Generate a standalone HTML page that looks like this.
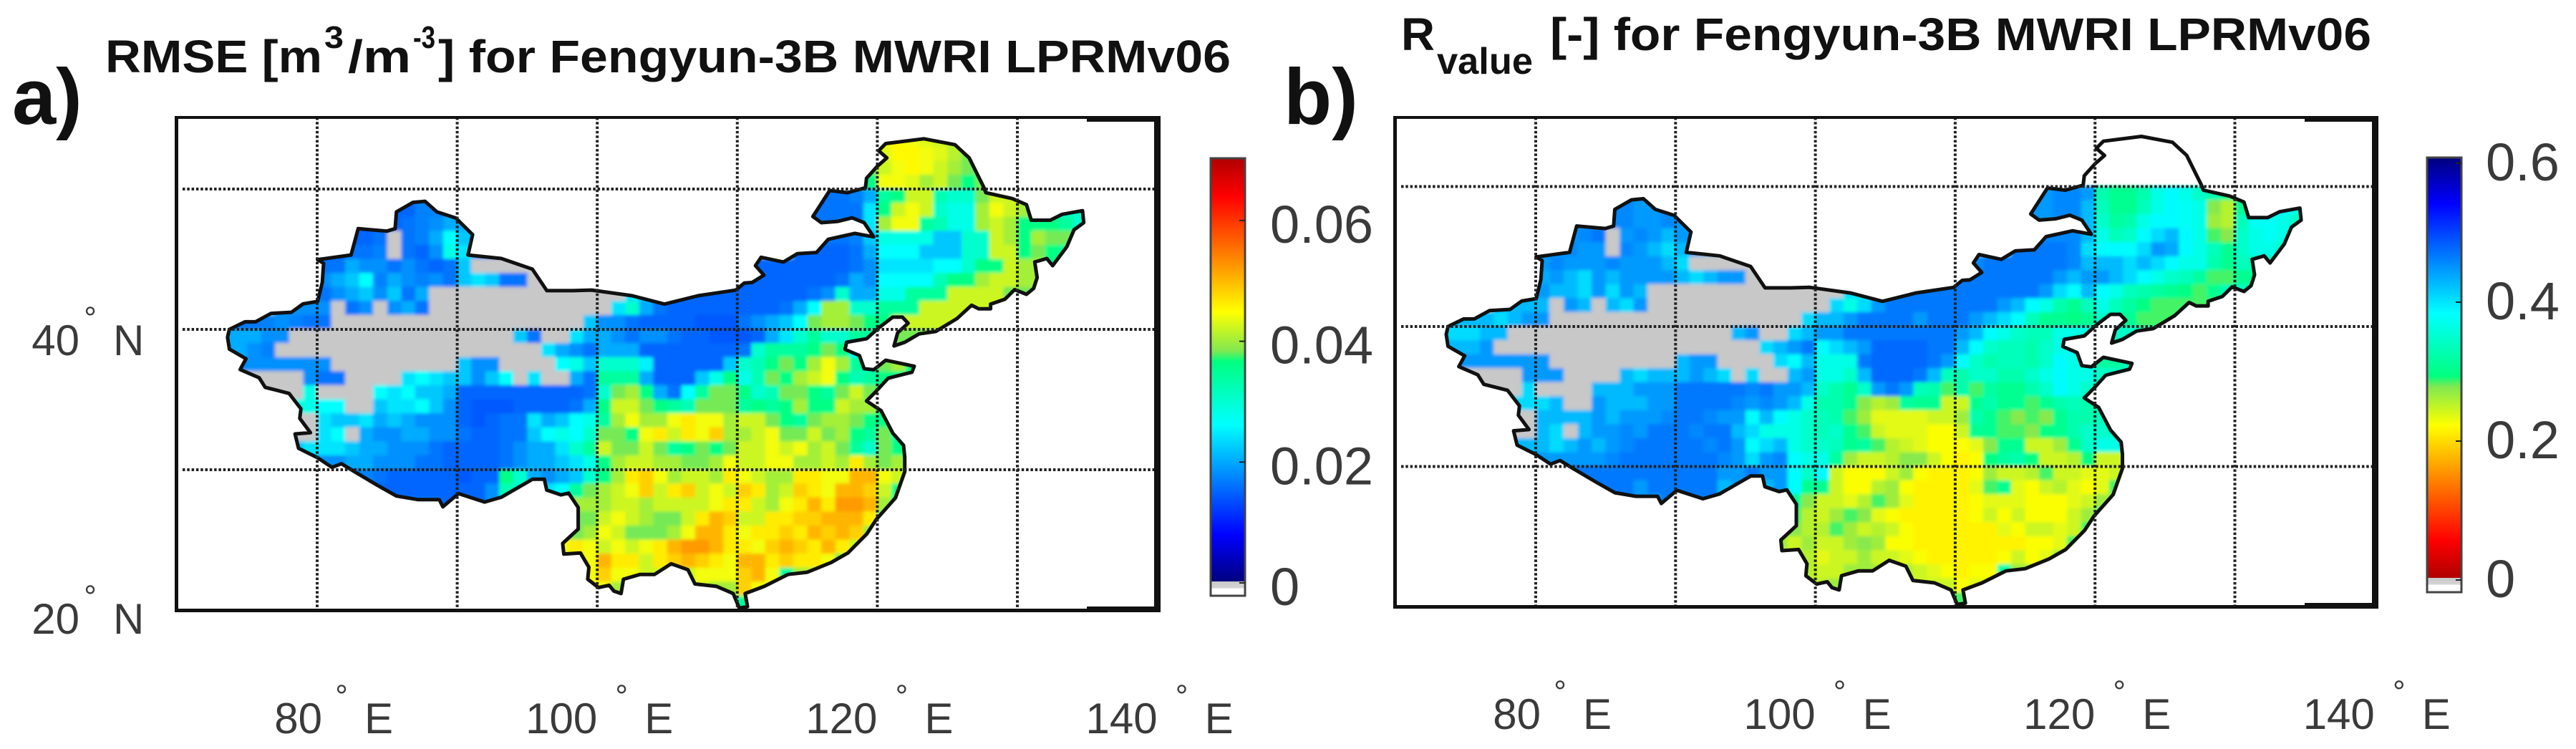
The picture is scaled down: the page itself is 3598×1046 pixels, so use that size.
<!DOCTYPE html>
<html lang="en">
<head>
<meta charset="utf-8">
<title>RMSE and R value maps for Fengyun-3B MWRI LPRMv06</title>
<style>
html,body{margin:0;padding:0;background:#fff;width:3598px;height:1046px;overflow:hidden}
svg{display:block}
text{font-family:"Liberation Sans",sans-serif}
.ttl{font-weight:700;font-size:64px;fill:#111}
.pl{font-weight:700;font-size:110px;fill:#111}
.tk{font-size:60px;fill:#3a3a3a}
.cb{font-size:74px;fill:#3a3a3a}
</style>
</head>
<body>
<svg id="fig" xmlns="http://www.w3.org/2000/svg" width="3598" height="1046" viewBox="0 0 3598 1046">
<defs>
<filter id="soft" x="-5%" y="-5%" width="110%" height="110%"><feGaussianBlur stdDeviation="2.5"/></filter>
<clipPath id="clip-a"><path id="clip-a-path"/></clipPath>
<clipPath id="clip-b"><path id="clip-b-path"/></clipPath>
<linearGradient id="grad-a" x1="0" y1="1" x2="0" y2="0"></linearGradient>
<linearGradient id="grad-b" x1="0" y1="0" x2="0" y2="1"></linearGradient>
<linearGradient id="nodata-grad" x1="0" y1="0" x2="0" y2="1"><stop offset="0" stop-color="#c8c8c8"/><stop offset="0.45" stop-color="#d4d4d4"/><stop offset="0.5" stop-color="#fff"/><stop offset="1" stop-color="#fff"/></linearGradient>
</defs>
<text class="pl" x="17" y="173">a)</text>
<text class="pl" x="1793" y="173">b)</text>
<g>
<text class="ttl" x="147" y="101" textLength="303" lengthAdjust="spacingAndGlyphs">RMSE [m</text>
<text class="ttl" x="453" y="67" style="font-size:44px" textLength="27" lengthAdjust="spacingAndGlyphs">3</text>
<text class="ttl" x="486" y="101" textLength="88" lengthAdjust="spacingAndGlyphs">/m</text>
<text class="ttl" x="577" y="67" style="font-size:44px" textLength="31" lengthAdjust="spacingAndGlyphs">-3</text>
<text class="ttl" x="612" y="101" textLength="1107" lengthAdjust="spacingAndGlyphs">] for Fengyun-3B MWRI LPRMv06</text>
</g>
<g>
<text class="ttl" x="1957" y="70" textLength="47" lengthAdjust="spacingAndGlyphs">R</text>
<text class="ttl" x="2007" y="103" style="font-size:52px" textLength="134" lengthAdjust="spacingAndGlyphs">value</text>
<text class="ttl" x="2165" y="70" textLength="1147" lengthAdjust="spacingAndGlyphs">[-] for Fengyun-3B MWRI LPRMv06</text>
</g>
<g id="layers"></g>
</svg>
<script>
const rowLats = [53,52,51,50,49,48,47,46,45,44,43,42,41,40,39,38,37,36,35,34,33,32,31,30,29,28,27,26,25,24,23,22,21,20];
const lonTicks = [80,100,120,140];
const lonGrid = [80,90,100,110,120,130];
const latGrid = [30,40,50];
const latTicks = [20,40];
const rmseTicks = [0,0.02,0.04,0.06];
const rmseTickLabels = ["0","0.02","0.04","0.06"];
const rvalueTicks = [0,0.2,0.4,0.6];
const rvalueTickLabels = ["0","0.2","0.4","0.6"];
const borderLon = [73.73,74.85,75.6,76.7,78.16,79,80.03,80.37,80.46,80.03,82.42,82.93,84.97,85.57,85.66,86.85,87.7,88.55,89.9,91.1,90.77,93.15,95.37,96.4,98.26,99.6,102.5,104.8,107.2,109.9,110.5,111.06,111.9,111.3,111.7,113.3,114.3,115.66,116.5,118.4,119.74,119.06,118.2,117.2,116,115.4,116.6,117.87,119.15,119.23,120,120.68,120.09,120.6,123.32,125.54,126.56,127.58,127.75,129.63,130.65,130.99,132.35,133.2,134.65,134.74,134.05,133.54,132.52,132.1,131.24,131.41,131.16,130.65,129.8,129.11,128.09,128.09,127.24,126.73,125.7,124.17,122.98,121.96,121.19,121.45,122.2,121.79,121.1,120.09,119.23,117.8,117.7,118.72,119.06,119.74,120.6,122.64,122.47,120.77,119.91,119.23,120.26,121.11,121.87,121.96,121.96,121.3,119.93,119.25,117.9,116.7,115,113.63,111.92,110.56,110.73,110.14,109.71,108.52,106.98,106.64,106.47,105.28,104.09,103.07,101.87,101.7,101.19,100.85,100.09,99.32,99.4,98.8,97.61,97.53,98.64,98.64,97.96,97.41,96.39,96.22,95.37,93.15,91.96,90.09,88.98,88.72,87.19,85.66,84.29,82.59,81.74,81.06,80.03,78.67,78.42,79.52,78.76,78.84,77.99,76.29,75.86,74.5,74.92,73.73,73.6];
const borderLat = [40,40.54,40.54,41.14,41.22,41.82,41.99,43.35,44.71,44.97,45.3,47.18,47,47.18,48.37,49.05,49.13,48.37,47.94,46.75,45.3,45.05,44.29,42.76,42.76,42.8,42.4,41.8,42.4,42.8,43.3,43.34,43.86,44.54,45.14,44.8,45.4,45.48,46.42,46.84,46.59,47.6,47.95,47.7,47.6,48.04,49.9,49.74,50.09,50.77,51.62,52.22,52.73,53.24,53.58,53.16,52.22,50.17,49.74,49.32,48.89,47.78,47.78,48.2,48.46,47.6,47.1,45.9,44.54,45.05,44.8,43.69,42.92,42.5,42.83,42.15,41.8,41.47,41.47,41.72,40.78,39.85,39.68,39.08,38.82,39.76,40.44,40.87,40.87,40.1,39.33,39.08,38.57,38.14,37.2,37.12,37.8,37.37,36.95,36.52,35.58,34.9,34.22,32.6,31.74,30.89,29.86,28,26.46,25.43,24.07,23.39,22.7,22.54,21.69,21.18,20.24,20.15,21.18,21.69,21.86,22.54,22.88,23.3,22.54,22.54,22.2,21.18,21.35,21.77,21.6,22.2,23.05,24.07,23.99,24.75,25.77,27.31,28.33,28.21,28.55,29.32,29.32,28.04,27.7,28.3,27.36,27.87,27.87,28.13,28.9,29.91,30.43,30.17,30.85,31.53,32.55,32.64,33.66,34.34,35.44,35.87,36.55,37.14,37.91,38.59,39.44];
const ramp = [[0,"#00007f"],[0.11,"#0000ff"],[0.37,"#00ffff"],[0.52,"#00ff80"],[0.545,"#80e850"],[0.637,"#ffff00"],[0.77,"#ff8000"],[0.91,"#ff0000"],[1,"#b00000"]];

/* Each grid row follows rowLats; chunks are the 70s,80s,90s,100s,110s,120s,130s degrees E, indexed by lon mod 10. Value 0 = no data. */
/* RMSE in 0.001 m3/m3 */
const rmseGrid = [
[[],[],[],[],[],[44,45,44,43,42,40],[]],
[[],[],[],[],[],[43,45,45,44,43,41,38],[]],
[[],[],[],[],[,,,,,,,,,38],[42,44,45,44,42,40,38,36],[]],
[[],[],[],[],[,,,,,,,,,36],[44,44,43,40,42,38,36,38],[]],
[[],[,,,,,,16,17,17],[],[],[,,,,,16,16,16,17,20],[34,36,42,42,32,30,30,38,42,42],[40]],
[[],[,,,,,15,15,17,17,18],[],[],[,,,,,16,16,16,16,24],[36,42,44,42,30,28,28,40,44,42],[40,36,32,30]],
[[],[,,15,15,15,15,16,17,18,20],[20,18],[],[,,,,,16,16,16,16,24],[40,44,44,34,32,28,28,40,42,40],[36,36,36,34,30]],
[[],[,,15,15,16,0,16,17,20,26],[22,18],[],[,,,,,,16,16,17,22],[28,28,28,28,22,22,30,30,42,40],[36,40,38,38,34]],
[[],[15,15,16,16,17,0,16,15,18,28],[24,18,18],[],[,,,,15,15,15,15,16,20],[26,26,26,22,22,22,30,30,42,42],[36,38,36,34,32]],
[[],[16,16,20,18,18,16,18,16,15,16],[22,0,0,0,0,0],[],[,15,15,15,15,15,15,15,16,18],[24,24,24,24,26,26,30,36,36,42],[40,40,36]],
[[],[18,20,22,26,17,20,18,17,18,16],[22,24,22,16,16,0,0],[],[15,15,15,15,15,15,15,16,20,18],[26,26,26,26,32,36,36,40,42,42],[40,40]],
[[],[16,18,20,22,18,22,16,20,0,0],[0,0,0,0,0,0,0,0,0,0],[0,0,24,20,16,15,15,15,15,15],[15,15,15,15,15,16,18,30,20,20],[28,28,34,34,34,42,42,42,42,38],[38]],
[[,,,,,,,,,18],[18,0,16,18,0,18,20,16,0,0],[0,0,0,0,0,0,0,0,0,0],[0,24,30,20,16,15,15,15,15,15],[15,15,15,16,20,26,40,40,30,30],[34,34,34,42,42,42,42],[]],
[[,,,,16,16,17,18,17,16],[16,0,0,0,0,0,0,0,0,0],[0,0,0,0,0,0,0,0,0,22],[18,18,16,15,15,15,15,14,14,14],[16,18,20,22,26,38,40,40,38,36],[36,42,42,42,42,42],[]],
[[,,,,20,20,18,18,0,0],[0,0,0,0,0,0,0,0,0,0],[0,0,0,0,22,16,0,0,24,20],[20,18,16,18,18,16,15,15,14,14],[14,15,20,24,30,34,30,30,34,34],[38,38,38,38,38],[]],
[[,,,,20,18,17,0,0,0],[0,0,0,0,0,0,0,0,0,0],[0,0,0,0,0,0,24,20,18,16],[20,20,20,15,15,15,15,15,15,15],[16,30,34,34,34,36,38,36,26,30],[38,38,36],[]],
[[,,,,,18,18,18,18,18],[18,0,0,0,0,0,0,0,0,0],[22,18,18,0,0,0,0,26,28,22],[30,30,30,25,15,15,15,15,15,22],[30,32,36,38,36,40,44,40,34,30],[38,40,36],[]],
[[,,,,,,0,0,0,18],[16,16,0,0,0,0,24,26,24,22],[22,18,22,26,0,24,0,0,20,16],[34,34,34,20,15,15,15,22,28,36],[28,32,38,36,40,42,44,36,32,34],[36],[]],
[[,,,,,,,,0,28],[0,0,0,0,26,24,26,22,22,20],[15,15,15,15,15,15,15,15,15,16],[30,38,40,36,20,16,26,34,38,38],[36,30,32,38,38,36,34,38,42,38],[36],[]],
[[,,,,,,,,,28],[26,26,0,0,22,24,24,26,22,18],[15,14,14,14,15,15,15,15,16,20],[36,42,42,38,36,34,32,38,38,38],[34,36,34,36,40,36,36,42,40,40],[34],[]],
[[,,,,,,,,0,0],[24,22,22,24,20,22,20,18,18,18],[15,14,15,16,16,24,20,22,26,28],[34,40,44,40,40,44,46,44,44,40],[42,42,38,36,34,38,40,40,38,36],[36,34],[]],
[[,,,,,,,,,0],[24,26,0,20,18,18,20,20,18,18],[16,15,15,16,16,22,26,28,26,30],[38,38,36,44,46,42,46,44,48,40],[40,42,44,38,38,42,38,40,36,34],[38,34,30],[]],
[[,,,,,,,,22,24],[24,24,22,20,20,18,18,18,16,15],[15,15,15,16,18,20,20,24,30,34],[42,38,38,42,38,34,36,38,36,38],[42,42,44,42,44,40,42,38,34,30],[38,36,30],[]],
[[],[18,18,20,20,18,18,18,16,16,15],[15,15,15,16,18,20,20,22,24,28],[36,40,42,42,40,40,38,38,40,44],[42,42,44,44,40,40,42,40,46,40],[38,40,36],[]],
[[],[,,,17,16,15,15,15,15,15],[14,15,15,36,30,20,18,20,22,30],[36,40,46,48,44,40,42,42,40,46],[44,42,40,40,46,46,44,44,50,50],[44,42,36],[]],
[[],[,,,,,,15,15,15,15],[15,15,18,32,30,24,24,26,34,38],[40,42,44,48,42,46,48,42,44,42],[48,46,40,42,48,46,44,50,50,48],[42,36],[]],
[[],[,,,,,,,,16,15],[15,15,18,,,,,,40,40],[40,42,42,40,42,42,42,42,44,46],[46,42,40,44,46,50,46,52,52,50],[40,36],[]],
[[],[],[,,,,,,,,38,38],[42,44,42,40,38,38,42,46,50,48],[42,42,46,46,48,48,50,50,50,46],[34],[]],
[[],[],[,,,,,,,,38,40],[44,42,38,38,38,40,44,50,50,46],[44,46,46,48,46,50,48,50,48,40],[],[]],
[[],[],[,,,,,,,44,46,44],[42,44,42,44,46,50,52,52,50,46],[46,44,48,50,48,46,50,46,42,34],[],[]],
[[],[],[,,,,,,,,42,44],[50,46,46,42,46,48,50,48,46,44],[50,50,46,48,46,46,44,38],[],[]],
[[],[],[,,,,,,,,,44],[48,44,44,42,42,42,42,44,44,44],[48,50,44,34,40],[],[]],
[[],[],[,,,,,,,,,44],[44,40,,,,,,42,40,40],[48,44],[],[]],
[[],[],[],[],[34],[],[]]
];
/* R value in 0.01 */
const rvalueGrid = [
[[],[],[],[],[],[],[]],
[[],[],[],[],[],[],[]],
[[],[],[],[],[],[],[]],
[[],[],[],[],[],[],[]],
[[],[,,,,,,44,45,44],[],[],[,,,,,44,44,45,45,44],[32,30,30,32,36,38,36,34,32,30],[30]],
[[],[,,,,,45,45,44,44,45],[],[],[,,,,,44,44,45,45,42],[33,30,30,33,36,38,37,36,27,25],[30,36,38,38,36]],
[[],[,,,44,45,45,45,44,44,45],[44,43],[],[,,,,,44,44,45,45,42],[34,31,32,36,38,38,37,36,26,25],[33,37,37,36,34]],
[[],[,,44,45,46,0,44,45,44,42],[44,44],[],[,,,,,,45,45,45,42],[36,33,34,38,40,42,38,36,28,27],[34,36,37,36,35]],
[[],[44,44,45,44,44,0,45,44,42,40],[42,44,42],[],[,,,,46,46,46,46,45,40],[38,38,38,40,44,43,38,36,33,30],[34,36,36,34,32]],
[[],[44,45,44,44,44,45,44,44,44,42],[40,0,0,0,0,0],[],[,45,46,46,46,46,46,46,45,42],[42,42,40,42,40,38,36,36,32,30],[33,33,32]],
[[],[43,44,42,40,44,42,44,44,44,44],[42,40,42,44,44,0,0],[],[46,46,46,46,46,46,46,44,42,44],[44,42,40,38,36,34,33,31,28,28],[30,30]],
[[],[44,42,42,40,44,40,44,42,0,0],[0,0,0,0,0,0,0,0,0,0],[0,0,40,40,46,46,46,46,46,46],[46,46,46,46,46,46,44,40,38,42],[38,36,33,32,31,30,29,28,30,33],[33]],
[[,,,,,,,,,42],[42,0,44,42,0,42,40,44,0,0],[0,0,0,0,0,0,0,0,0,0],[0,40,36,40,44,46,46,46,46,46],[46,46,46,44,42,38,36,32,30,33],[36,33,31,29,28,28,28],[]],
[[,,,,42,42,42,40,42,44],[44,0,0,0,0,0,0,0,0,0],[0,0,0,0,0,0,0,0,0,40],[42,42,44,46,46,46,46,44,46,46],[46,44,42,40,38,33,30,30,29,30],[34,32,30,28,28,28],[]],
[[,,,,40,40,42,42,0,0],[0,0,0,0,0,0,0,0,0,0],[0,0,0,0,42,44,0,0,40,42],[44,44,46,46,46,46,46,46,46,46],[44,42,38,36,34,33,33,36,36,36],[34,34,34,32,32],[]],
[[,,,,42,42,44,0,0,0],[0,0,0,0,0,0,0,0,0,0],[0,0,0,0,0,0,40,42,44,46],[38,40,42,44,47,47,47,47,46,46],[42,38,34,33,33,32,34,36,38,36],[32,30,28],[]],
[[,,,,,44,44,44,44,44],[44,0,0,0,0,0,0,0,0,0],[42,44,44,0,0,0,0,40,38,42],[36,36,36,46,47,47,47,47,46,44],[38,34,32,33,33,32,34,38,36,36],[31,31,33],[]],
[[,,,,,,0,0,0,44],[44,44,0,0,0,0,42,40,42,42],[42,44,42,40,0,40,0,0,42,44],[36,36,34,42,47,47,47,46,42,33],[32,34,34,32,32,34,36,38,36,36],[34],[]],
[[,,,,,,,,0,40],[0,0,0,0,42,42,42,44,44,44],[46,46,46,46,46,45,46,44,44,42],[34,32,30,34,44,46,44,33,32,28],[32,28,31,30,30,32,34,38,36,34],[34],[]],
[[,,,,,,,,,40],[40,42,0,0,44,42,42,42,44,44],[46,46,46,46,45,44,45,44,42,36],[32,32,30,27,25,26,31,30,30,24],[24,30,32,30,30,28,30,32,33,32],[32],[]],
[[,,,,,,,,0,0],[42,42,42,42,44,42,44,44,44,45],[46,46,45,44,44,38,42,38,36,34],[33,32,28,26,23,23,23,23,24,24],[26,32,30,28,27,28,27,30,32,32],[33,33],[]],
[[,,,,,,,,,0],[42,40,0,42,44,44,45,44,46,46],[46,45,46,46,42,40,36,36,36,34],[33,34,30,28,24,23,23,23,22,22],[24,30,30,28,28,27,29,30,32,34],[34,34,34],[]],
[[,,,,,,,,42,42],[42,40,42,44,42,44,45,46,46,46],[46,46,45,46,44,38,40,42,36,34],[34,33,30,31,28,25,24,23,22,22],[22,23,27,30,30,24,24,26,30,34],[36,36,36],[]],
[[],[44,44,44,44,44,45,46,46,46,46],[46,46,46,45,44,40,44,45,38,36],[36,31,26,24,24,25,27,27,24,22],[21,22,29,31,32,29,24,24,25,29],[24,24,28],[]],
[[],[,,,46,46,46,46,46,46,46],[46,46,46,44,44,46,44,44,38,34],[38,24,22,22,22,24,26,22,21,21],[21,22,26,24,24,25,28,24,24,23],[23,24,28],[]],
[[],[,,,,,,46,44,46,46],[46,46,46,42,44,46,42,44,38,30],[30,24,22,22,25,26,22,21,21,21],[21,23,28,30,23,22,24,25,23,22],[23,28],[]],
[[],[,,,,,,,,44,46],[46,46,46,,,,,,30,27],[24,24,23,25,28,26,23,21,21,21],[21,22,23,23,23,22,22,22,23,24],[26],[]],
[[],[],[,,,,,,,,28,25],[24,26,28,27,23,22,21,21,21,21],[21,22,24,22,24,22,22,22,24,26],[31],[]],
[[],[],[,,,,,,,,27,25],[25,28,26,24,25,24,22,21,21,21],[21,21,21,23,22,24,24,23,24,28],[],[]],
[[],[],[,,,,,,,26,24,26],[24,24,26,27,26,22,22,21,21,21],[21,21,21,21,21,22,22,23,28,31],[],[]],
[[],[],[,,,,,,,,24,25],[23,24,24,26,24,24,23,22,21,21],[21,21,21,22,24,22,23,26],[],[]],
[[],[],[,,,,,,,,,25],[24,24,26,26,26,26,25,24,23,22],[21,22,22,32,26],[],[]],
[[],[],[,,,,,,,,,25],[25,26,,,,,,24,24,24],[22,23],[],[]],
[[],[],[],[],[28],[],[]]
];

const NS = "http://www.w3.org/2000/svg";
const layers = document.getElementById("layers");
function make(tag, attrs, parent, txt){
  const el = document.createElementNS(NS, tag);
  for (const k in attrs) el.setAttribute(k, attrs[k]);
  if (txt !== undefined) el.textContent = txt;
  parent.appendChild(el);
  return el;
}
function hexToRgb(h){return [parseInt(h.slice(1,3),16),parseInt(h.slice(3,5),16),parseInt(h.slice(5,7),16)];}
function rampColor(t){
  t = Math.max(0, Math.min(1, t));
  for (let i = 1; i < ramp.length; i++){
    if (t <= ramp[i][0]){
      const a = ramp[i-1], b = ramp[i], f = (t-a[0])/(b[0]-a[0]);
      const ca = hexToRgb(a[1]), cb = hexToRgb(b[1]);
      return "rgb(" + ca.map((v,j)=>Math.round(v+(cb[j]-v)*f)).join(",") + ")";
    }
  }
  return ramp[ramp.length-1][1];
}
ramp.forEach(function(s){
  make("stop",{offset:s[0],"stop-color":s[1]},document.getElementById("grad-a"));
  make("stop",{offset:s[0],"stop-color":s[1]},document.getElementById("grad-b"));
});

function panel(p){
  const x = function(lon){ return p.x80 + (lon-80)*p.kx; };
  const y = function(lat){ return p.y20 - (lat-20)*p.ky; };
  const g = make("g",{},layers);
  
  

  let d = "";
  borderLon.forEach(function(lon,i){ d += (i?"L":"M") + x(lon).toFixed(1) + " " + y(borderLat[i]).toFixed(1); });
  d += "Z";
  document.getElementById("clip-"+p.id+"-path").setAttribute("d", d);

  const clipG = make("g",{"clip-path":"url(#clip-"+p.id+")"},g);
  
  
  const cells = make("g",{filter:"url(#soft)"},clipG);
  const w = p.kx, h = p.ky;
  p.grid.forEach(function(row,ri){
    const lat = rowLats[ri];
    const flat = [];
    row.forEach(function(chunk,ci){
      for (let k = 0; k < chunk.length; k++){
        if (chunk[k] !== undefined) flat.push({lon:70+ci*10+k, v:chunk[k]});
      }
    });
    flat.forEach(function(c,i){
      const pad = (i===0 || i===flat.length-1) ? 2 : 0;
      const cx = (i===0) ? x(c.lon)-w*pad : x(c.lon);
      const cw = w*(1+pad)+1;
      const fill = c.v === 0 ? "#c8c8c8" : rampColor(p.toT(c.v));
      const r = make("rect",{x:cx.toFixed(1),y:(y(lat+1)-0.5).toFixed(1),width:cw.toFixed(1),height:(h+1).toFixed(1),fill:fill},cells);
      
      
    });
  });

  const border = make("path",{d:d,fill:"none",stroke:"#111","stroke-width":5,"stroke-linejoin":"round"},g);
  
  

  lonGrid.forEach(function(lon){
    const l = make("line",{x1:x(lon),x2:x(lon),y1:p.top,y2:p.bottom,stroke:"#222","stroke-width":4,"stroke-dasharray":"3.5 2.8"},g);
    
    
  });
  latGrid.forEach(function(lat){
    const l = make("line",{x1:p.left+8,x2:p.right,y1:y(lat),y2:y(lat),stroke:"#222","stroke-width":4,"stroke-dasharray":"3.5 2.8"},g);
    
    
  });

  const frame = make("g",{fill:"#111"},g);
  
  
  make("rect",{x:p.left-3,y:p.top-2,width:p.right-p.left+4,height:4},frame);
  make("rect",{x:p.left-3,y:p.top-2,width:5,height:p.bottom-p.top+5},frame);
  make("rect",{x:p.left-3,y:p.bottom-2,width:p.right-p.left+4,height:5},frame);
  make("rect",{x:p.right-4,y:p.top-2,width:9,height:p.bottom-p.top+5},frame);
  make("rect",{x:p.right-98,y:p.top-2,width:100,height:8},frame);
  make("rect",{x:p.right-98,y:p.bottom-5,width:100,height:8},frame);

  lonTicks.forEach(function(lon){
    const tx = x(lon) + (lon===80 ? 7 : 0);
    const t = make("text",{class:"tk",x:tx,y:p.xBase,"text-anchor":"end"},g,String(lon));
    
    
    const deg = make("text",{class:"tk",x:x(lon)+34,y:p.xBase-37,"text-anchor":"middle",style:"font-size:44px"},g,"\u00B0");
    
    
    const e = make("text",{class:"tk",x:x(lon)+66,y:p.xBase},g,"E");
    
    
  });
  if (p.showLat){
    latTicks.forEach(function(lat){
      const base = y(lat) + 33 + (lat===40 ? 3 : 0);
      const t = make("text",{class:"tk",x:111,y:base,"text-anchor":"end"},g,String(lat));
      
      
      const deg = make("text",{class:"tk",x:126,y:base-37,"text-anchor":"middle",style:"font-size:44px"},g,"\u00B0");
      
      
      const n = make("text",{class:"tk",x:158,y:base},g,"N");
      
      
    });
  }

  const cb = make("g",{},g);
  
  
  make("rect",{x:p.cbX,y:p.cbTop,width:p.cbW,height:p.cbRampBottom-p.cbTop,fill:"url(#grad-"+p.id+")"},cb);
  make("rect",{x:p.cbX,y:p.cbRampBottom,width:p.cbW,height:p.cbBottom-p.cbRampBottom,fill:"url(#nodata-grad)"},cb);
  make("rect",{x:p.cbX,y:p.cbTop,width:p.cbW,height:p.cbBottom-p.cbTop,fill:"none",stroke:"#444","stroke-width":3},cb);
  const cy = function(v){ return p.cbZero - v*p.cbK; };
  p.ticks.forEach(function(v,i){
    const mark = make("line",{x1:p.cbX+p.cbW-8,x2:p.cbX+p.cbW,y1:cy(v),y2:cy(v),stroke:"#222","stroke-width":2},cb);
    
    
    const t = make("text",{class:"cb",x:p.cbLabelX,y:cy(v)+p.cbLabelDy},cb,p.tickLabels[i]);
    
    
  });
}

panel({id:"a",grid:rmseGrid,toT:function(v){return v/70;},x80:443,kx:19.56,y20:852,ky:19.6,left:247,right:1616,top:164,bottom:852,xBase:1024,showLat:true,
  cbX:1691,cbW:48,cbTop:221,cbRampBottom:812,cbBottom:832,cbZero:814,cbK:8435,ticks:rmseTicks,tickLabels:rmseTickLabels,cbLabelX:1774,cbLabelDy:31});
panel({id:"b",grid:rvalueGrid,toT:function(v){return 1-v/60;},x80:2145,kx:19.53,y20:847,ky:19.55,left:1949,right:3317,top:164,bottom:847,xBase:1018,showLat:false,
  cbX:3390,cbW:48,cbTop:220,cbRampBottom:807,cbBottom:827,cbZero:810,cbK:970,ticks:rvalueTicks,tickLabels:rvalueTickLabels,cbLabelX:3472,cbLabelDy:24});
</script>
</body>
</html>
